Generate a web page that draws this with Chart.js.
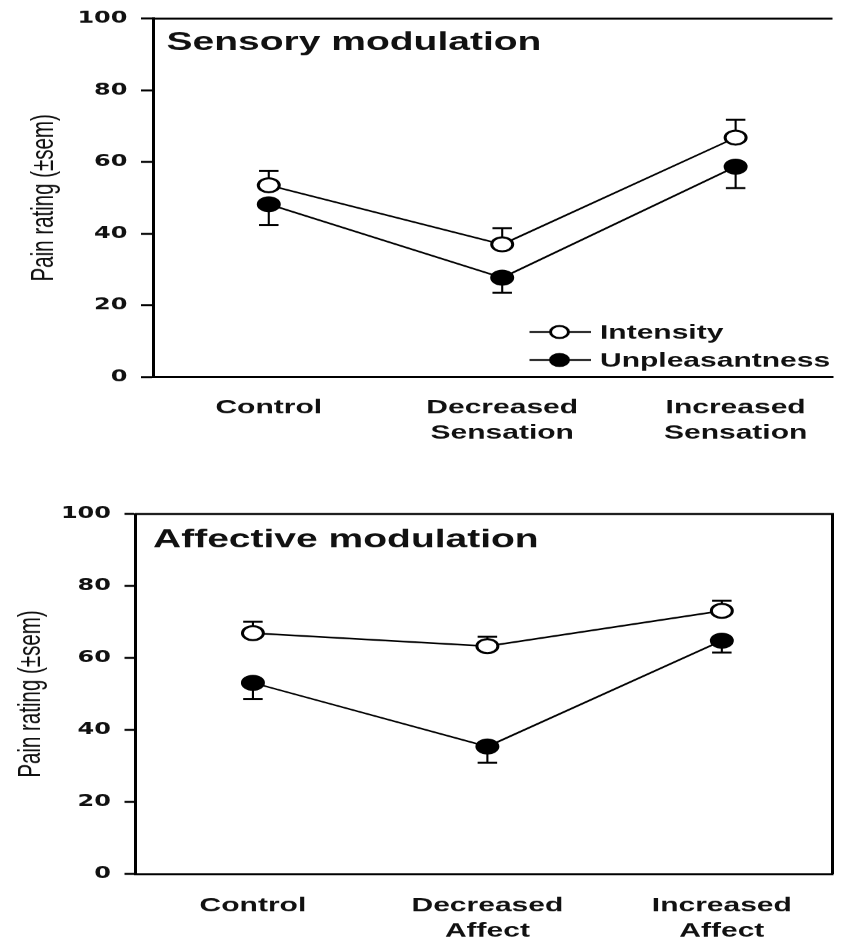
<!DOCTYPE html>
<html>
<head>
<meta charset="utf-8">
<script src="https://cdn.jsdelivr.net/npm/chart.js@4.4.1/dist/chart.umd.min.js"></script>
<style>
  html, body { margin: 0; padding: 0; background: #fff; }
  body { width: 846px; height: 940px; overflow: hidden; position: relative; }
  /* the original figure is stretched sideways, so draw narrow and widen */
  .panel { position: absolute; left: 0; width: 564px; transform: scaleX(1.5); transform-origin: 0 0; }
  #top { top: 0; height: 460px; }
  #bottom { top: 460px; height: 480px; }
</style>
</head>
<body>
<div class="panel" id="top"><canvas id="sensoryChart" width="564" height="460"></canvas></div>
<div class="panel" id="bottom"><canvas id="affectiveChart" width="564" height="480"></canvas></div>
<script>
const sensoryLabels = [["Control"], ["Decreased", "Sensation"], ["Increased", "Sensation"]];
const affectiveLabels = [["Control"], ["Decreased", "Affect"], ["Increased", "Affect"]];
const yTicks = [0, 20, 40, 60, 80, 100];

const sensoryIntensity = [53.5, 37.0, 66.8];
const sensoryIntensitySem = [4.0, 4.5, 5.0];
const sensoryUnpleasant = [48.2, 27.7, 58.7];
const sensoryUnpleasantSem = [5.8, 4.2, 6.0];

const affectiveIntensity = [66.9, 63.3, 73.1];
const affectiveIntensitySem = [3.2, 2.6, 2.8];
const affectiveUnpleasant = [53.1, 35.4, 64.8];
const affectiveUnpleasantSem = [4.5, 4.5, 3.3];

const WIDE = "'DejaVu Sans', 'Liberation Sans', sans-serif";
const ARIAL = "'Liberation Sans', Arial, sans-serif";

// one-sided error bars: intensity goes up, unpleasantness goes down
const errorBars = {
  id: 'errorBars',
  beforeDatasetsDraw(chart) {
    const ctx = chart.ctx;
    const yScale = chart.scales.y;
    ctx.save();
    ctx.strokeStyle = '#000';
    chart.data.datasets.forEach((ds, i) => {
      chart.getDatasetMeta(i).data.forEach((pt, j) => {
        const end = yScale.getPixelForValue(ds.data[j].y + ds.errDir * ds.sem[j]);
        ctx.lineWidth = 1.4;
        ctx.beginPath();
        ctx.moveTo(pt.x, pt.y);
        ctx.lineTo(pt.x, end);
        ctx.stroke();
        ctx.lineWidth = 2;
        ctx.beginPath();
        ctx.moveTo(pt.x - 6.5, end);
        ctx.lineTo(pt.x + 6.5, end);
        ctx.stroke();
      });
    });
    ctx.restore();
  }
};

// frame, in-plot title and in-plot legend
const panel = {
  id: 'panel',
  afterDraw(chart, args, opts) {
    const ctx = chart.ctx;
    const area = chart.chartArea;
    ctx.save();
    ctx.strokeStyle = '#000';
    ctx.lineWidth = 2;
    ctx.beginPath();
    ctx.moveTo(area.left, area.top);
    ctx.lineTo(area.right, area.top);
    if (opts.rightBorder) ctx.lineTo(area.right, area.bottom);
    ctx.stroke();

    ctx.fillStyle = '#111';
    ctx.font = `bold 26px ${ARIAL}`;
    ctx.textBaseline = 'alphabetic';
    ctx.fillText(opts.title, opts.titleX, opts.titleY);

    if (opts.legend) {
      const lg = opts.legend;
      ctx.font = `bold 20px ${ARIAL}`;
      ctx.textBaseline = 'middle';
      chart.data.datasets.forEach((ds, i) => {
        const y = lg.y + i * lg.gap;
        ctx.lineWidth = 1.6;
        ctx.beginPath();
        ctx.moveTo(lg.x, y);
        ctx.lineTo(lg.x + 41, y);
        ctx.stroke();
        ctx.beginPath();
        ctx.arc(lg.x + 20, y, 6, 0, Math.PI * 2);
        ctx.fillStyle = ds.pointBackgroundColor;
        ctx.fill();
        ctx.lineWidth = 2;
        ctx.stroke();
        ctx.fillStyle = '#111';
        ctx.fillText(ds.label, lg.x + 47, y + 1);
      });
    }
    ctx.restore();
  }
};

function makeChart(id, labels, intensity, intensitySem, unpleasant, unpleasantSem, cfg) {
  const toPoints = arr => arr.map((v, i) => ({ x: i, y: v }));
  return new Chart(document.getElementById(id), {
    type: 'line',
    data: {
      datasets: [
        {
          label: 'Intensity',
          data: toPoints(intensity),
          sem: intensitySem,
          errDir: 1,
          borderColor: '#000',
          borderWidth: 1.6,
          pointRadius: 7,
          pointBorderWidth: 2,
          pointBorderColor: '#000',
          pointBackgroundColor: '#fff',
          tension: 0
        },
        {
          label: 'Unpleasantness',
          data: toPoints(unpleasant),
          sem: unpleasantSem,
          errDir: -1,
          borderColor: '#000',
          borderWidth: 1.6,
          pointRadius: 7,
          pointBorderWidth: 2,
          pointBorderColor: '#000',
          pointBackgroundColor: '#000',
          tension: 0
        }
      ]
    },
    options: {
      responsive: false,
      animation: false,
      devicePixelRatio: 1.5,
      layout: { padding: { top: cfg.top, right: cfg.right, bottom: 0, left: 0 } },
      scales: {
        x: {
          type: 'linear',
          min: cfg.xMin,
          max: cfg.xMax,
          afterBuildTicks: s => { s.ticks = [0, 1, 2].map(v => ({ value: v })); },
          afterFit: s => { s.height = cfg.xHeight; },
          grid: { drawOnChartArea: false, drawTicks: false },
          border: { color: '#000', width: 2 },
          ticks: {
            callback: v => labels[v],
            color: '#111',
            font: { family: ARIAL, size: 20, weight: 'bold', lineHeight: 1.25 },
            padding: cfg.xPad,
            maxRotation: 0,
            autoSkip: false
          }
        },
        y: {
          min: 0,
          max: 100,
          afterBuildTicks: s => { s.ticks = yTicks.map(v => ({ value: v })); },
          afterFit: s => { s.width = cfg.yWidth; },
          grid: { drawOnChartArea: false, tickLength: cfg.tickLen, tickColor: '#000', tickWidth: 2 },
          border: { color: '#000', width: 2 },
          ticks: {
            color: '#111',
            font: { family: WIDE, size: 16, weight: 'bold' },
            padding: cfg.yPad
          },
          title: {
            display: true,
            text: 'Pain rating (±sem)',
            color: '#111',
            font: { family: ARIAL, size: 20.5 },
            padding: { top: cfg.titlePad, bottom: 0 }
          }
        }
      },
      plugins: {
        legend: { display: false },
        tooltip: { enabled: false },
        panel: cfg.panel
      }
    },
    plugins: [errorBars, panel]
  });
}

makeChart('sensoryChart', sensoryLabels, sensoryIntensity, sensoryIntensitySem,
  sensoryUnpleasant, sensoryUnpleasantSem, {
    top: 16, right: 0, xHeight: 83, yWidth: 102, tickLen: 8, yPad: 9, xPad: 18.5,
    titlePad: 17.7, xMin: -0.496, xMax: 2.415,
    panel: { title: 'Sensory modulation', titleX: 111, titleY: 50, rightBorder: false,
      legend: { x: 353, y: 332, gap: 28 } }
  });

makeChart('affectiveChart', affectiveLabels, affectiveIntensity, affectiveIntensitySem,
  affectiveUnpleasant, affectiveUnpleasantSem, {
    top: 54, right: 1, xHeight: 66, yWidth: 90, tickLen: 7, yPad: 9, xPad: 19.5,
    titlePad: 8.7, xMin: -0.503, xMax: 2.472,
    panel: { title: 'Affective modulation', titleX: 102, titleY: 87, rightBorder: true }
  });
</script>
</body>
</html>
